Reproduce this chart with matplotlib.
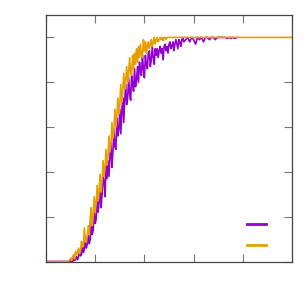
import numpy as np
import matplotlib
matplotlib.use("Agg")
import matplotlib.pyplot as plt

# ---- data ----
x_ticks = [0, 1, 2, 3, 4, 5]
y_ticks = [0.0, 0.2, 0.4, 0.6, 0.8, 1.0]

purple_rise = [
    0, 0, 0.005, 0, 0, 0.012, 0.004, 0.01, 0.022, 0.008,
    0.02, 0.05, 0.025, 0.03, 0.07, 0.04, 0.055, 0.11, 0.06, 0.08,
    0.12, 0.08, 0.10, 0.18, 0.12, 0.14, 0.23, 0.17, 0.19, 0.28,
    0.22, 0.27, 0.34, 0.24, 0.30, 0.38, 0.36, 0.29, 0.43, 0.37,
    0.45, 0.38, 0.47, 0.53, 0.42, 0.49, 0.59, 0.51, 0.50, 0.64,
    0.56, 0.59, 0.68, 0.57, 0.67, 0.73, 0.62, 0.72, 0.79, 0.70,
    0.73, 0.82, 0.75, 0.72, 0.83, 0.79, 0.76, 0.86, 0.78, 0.81,
    0.87, 0.80, 0.89, 0.85, 0.83, 0.92, 0.86, 0.82, 0.92, 0.88,
    0.86, 0.93, 0.94, 0.87, 0.90, 0.96, 0.91, 0.88, 0.95, 0.92,
    0.95, 0.91, 0.94, 0.96, 0.93, 0.95, 0.90, 0.96, 0.97, 0.94,
    0.96, 0.93, 0.97, 0.98, 0.95, 0.96, 0.98, 0.94, 0.97, 0.99,
    0.97, 0.95, 0.99, 0.98, 0.96, 0.99, 1.0, 0.98,
]
purple_tail = [
    0.99, 1.0, 0.98, 1.0, 0.99, 0.97, 1.0, 0.99, 1.0, 0.98,
    1.0, 1.0, 0.99, 1.0, 1.0, 0.99, 1.0, 1.0, 1.0, 1.0,
    1.0, 0.995, 1.0, 0.995, 1.0, 0.995, 1.0,
]
orange_rise = [
    0, 0.008, 0.015, 0.005, 0.02, 0.03, 0.012, 0.045, 0.03, 0.04,
    0.06, 0.035, 0.05, 0.09, 0.065, 0.07, 0.15, 0.09, 0.085, 0.12,
    0.16, 0.12, 0.20, 0.24, 0.16, 0.20, 0.29, 0.22, 0.26, 0.34,
    0.27, 0.31, 0.39, 0.31, 0.36, 0.45, 0.38, 0.42, 0.50, 0.43,
    0.47, 0.56, 0.49, 0.52, 0.62, 0.55, 0.58, 0.68, 0.60, 0.65,
    0.73, 0.66, 0.70, 0.79, 0.71, 0.76, 0.84, 0.77, 0.81, 0.87,
    0.80, 0.84, 0.91, 0.84, 0.83, 0.92, 0.86, 0.93, 0.88, 0.95,
    0.89, 0.96, 0.91, 0.97, 0.92, 0.91, 0.99, 0.94, 0.98, 0.93,
    0.96, 0.98, 0.95, 0.97, 0.99, 0.96, 0.98, 1.0, 0.97, 0.99,
    1.0, 0.98, 0.99, 1.0, 0.99, 1.0, 0.985, 1.0, 1.0, 0.99,
    1.0, 1.0, 1.0,
]

x_purple = np.concatenate([[0.0, 0.44],
                           0.46 + 0.02 * np.arange(len(purple_rise)),
                           2.84 + 0.04 * np.arange(len(purple_tail))])
y_purple = np.concatenate([[0.0, 0.0], purple_rise, purple_tail])
x_orange = np.concatenate([[0.0, 0.44],
                           0.46 + 0.02 * np.arange(len(orange_rise)),
                           [5.0]])
y_orange = np.concatenate([[0.0, 0.0], orange_rise, [1.0]])

PURPLE = "#9400D3"
ORANGE = "#E69F00"

fig = plt.figure(figsize=(3.08, 3.08), dpi=100)
ax = fig.add_axes([46 / 308, (308 - 261.5) / 308, 246 / 308, 246.5 / 308])
ax.plot(x_purple, y_purple, color=PURPLE, lw=1.2, label=" ")
ax.plot(x_orange, y_orange, color=ORANGE, lw=1.2, label=" ")
ax.set_xlim(0, 5)
ax.set_ylim(0, 1.1)
ax.set_xticks(x_ticks)
ax.set_yticks(y_ticks)
ax.tick_params(direction="in", length=5.5, width=0.8, color="#777777",
               top=True, right=True, labelbottom=False, labelleft=False)
for s in ax.spines.values():
    s.set_color("#444444")
    s.set_linewidth(0.9)

leg = ax.legend(loc="lower right", bbox_to_anchor=(0.975, -0.015), frameon=False,
                handlelength=1.4, handletextpad=0.2, labelspacing=0.5,
                fontsize=10)
for l in leg.get_lines():
    l.set_linewidth(2.0)

fig.savefig("out.png", dpi=100)
